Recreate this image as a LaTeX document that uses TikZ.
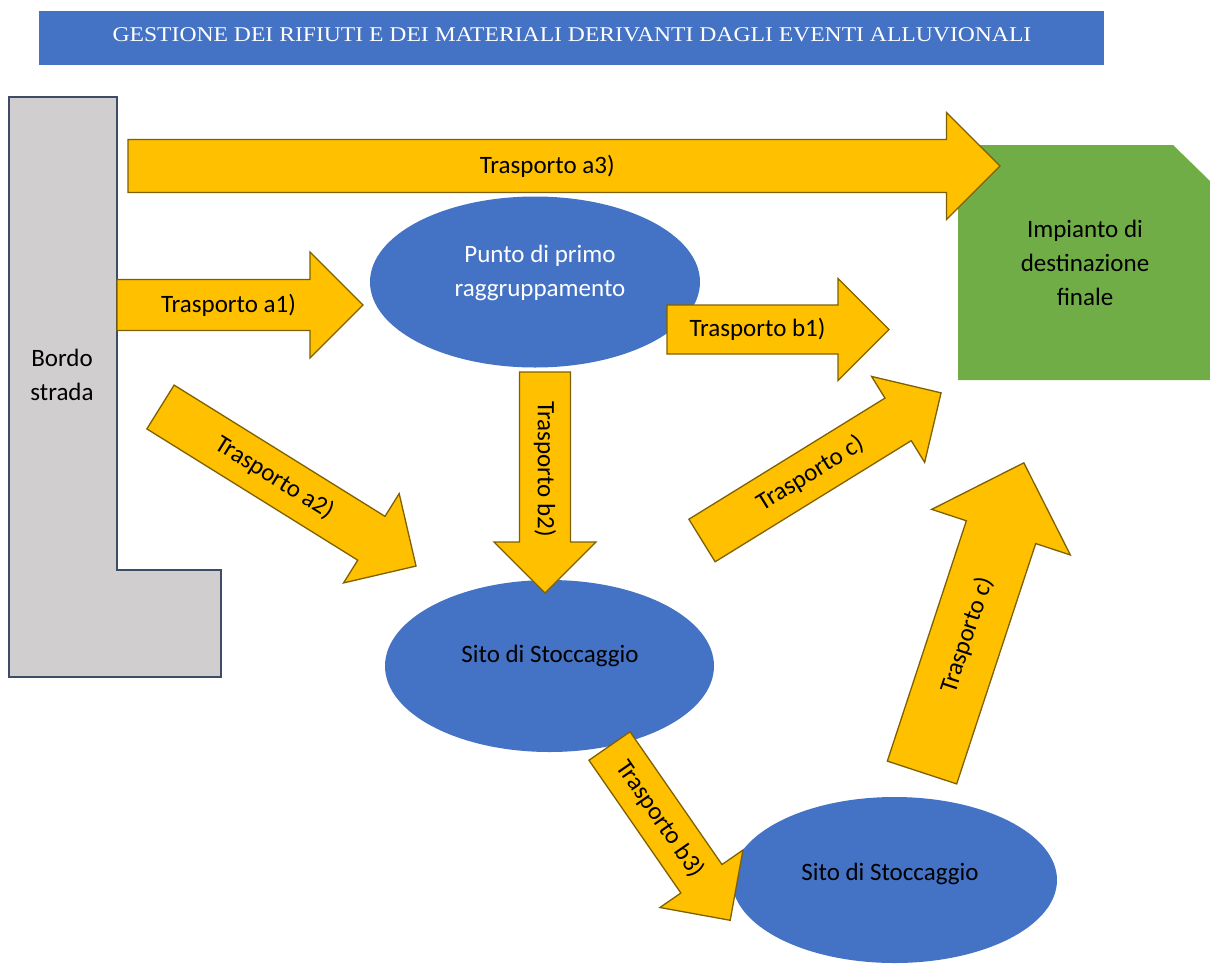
\documentclass[tikz,border=0pt]{standalone}
\usepackage{fontspec}
\setmainfont{Carlito}
\newfontfamily\titlefont{Liberation Serif}
\usetikzlibrary{shapes.geometric}

\definecolor{hdrblue}{HTML}{4472C4}
\definecolor{ovalblue}{HTML}{4472C4}
\definecolor{arrowfill}{HTML}{FFC000}
\definecolor{arrowline}{HTML}{7F6000}
\definecolor{roadgray}{HTML}{D0CECE}
\definecolor{roadline}{HTML}{3E4C68}
\definecolor{plantgreen}{HTML}{70AD47}

\tikzset{
  blockarrow/.style={fill=arrowfill, draw=arrowline, line width=1.3pt, line join=miter},
  arrowlabel/.style={font=\fontsize{25}{30}\selectfont, text=black, inner sep=0pt},
  oval/.style={ellipse, fill=ovalblue, draw=none, inner sep=0pt},
  ovallabel/.style={font=\fontsize{25}{34}\selectfont, align=center, inner sep=0pt},
  boxlabel/.style={font=\fontsize{25}{34}\selectfont, align=center, text=black, inner sep=0pt},
}

% #1 name, #2 tail x, #3 tail y, #4 angle, #5 length, #6 shaft half width,
% #7 head half width (head length equals it), #8 label, #9 label shift along the shaft
\newcommand\fatarrow[9]{%
  \begin{scope}[shift={(#2,#3)}, rotate=#4]
    \draw[blockarrow] (0,-#6) -- ({#5-#7},-#6) -- ({#5-#7},-#7) -- (#5,0)
      -- ({#5-#7},#7) -- ({#5-#7},#6) -- (0,#6) -- cycle;
    \node[arrowlabel, transform shape] (#1) at ({(#5-#7)/2+#9},0) {#8};
  \end{scope}}

\begin{document}
\begin{tikzpicture}[x=1pt, y=1pt]
  \useasboundingbox (0,0) rectangle (1210,-967);
  \fill[white] (0,0) rectangle (1210,-967);

  % heading bar
  \fill[hdrblue] (39,-11) rectangle (1104,-65);
  \node[text=white, inner sep=0pt] (title) at (572,-35)
    {\titlefont\fontsize{21}{24}\selectfont\scalebox{1.125}[1]{GESTIONE DEI RIFIUTI E DEI MATERIALI DERIVANTI DAGLI EVENTI ALLUVIONALI}};

  % roadside
  \draw[fill=roadgray, draw=roadline, line width=1.4pt]
    (9,-97) -- (117,-97) -- (117,-570) -- (221,-570) -- (221,-677) -- (9,-677) -- cycle;
  \node[boxlabel] (bordo) at (62,-375) {Bordo\\strada};

  % final plant
  \fill[plantgreen] (958,-145) -- (1173,-145) -- (1210,-181) -- (1210,-380) -- (958,-380) -- cycle;
  \node[boxlabel] (impianto) at (1085,-263) {Impianto di\\destinazione\\finale};

  % collection point and storage sites
  \node[oval, minimum width=330pt, minimum height=171pt] (punto) at (535,-282) {};
  \node[ovallabel, text=white] (puntotxt) at (540,-273) {Punto di primo\\raggruppamento};

  \node[oval, minimum width=329pt, minimum height=172pt] (sito1) at (549.5,-666) {};
  \node[ovallabel, text=black] (sito1txt) at (550,-656) {Sito di Stoccaggio};

  \node[oval, minimum width=325pt, minimum height=166pt] (sito2) at (894.5,-880) {};
  \node[ovallabel, text=black] (sito2txt) at (890,-874) {Sito di Stoccaggio};

  % transport arrows
  \fatarrow{a3}{128}{-166}{0}{872}{26.5}{53.5}{Trasporto a3)}{10}
  \fatarrow{a1}{117}{-305}{0}{246}{25.5}{53}{Trasporto a1)}{15}
  \fatarrow{b1}{667}{-329.5}{0}{222}{24.5}{51}{Trasporto b1)}{5}
  \fatarrow{b2}{545}{-372}{-90}{221}{25.5}{51}{Trasporto b2)}{12}
  \fatarrow{a2}{160.5}{-407}{-31.9}{301}{25.8}{52.6}{Trasporto a2)}{10}
  \fatarrow{c1}{702}{-540.5}{31.7}{281}{25}{50.5}{Trasporto c)}{12}
  \fatarrow{c2}{922}{-772.5}{71.8}{326}{36.5}{73}{Trasporto c)}{18}
  \fatarrow{b3}{609.5}{-746}{-55.3}{212}{25}{50.5}{Trasporto b3)}{8}
\end{tikzpicture}
\end{document}
